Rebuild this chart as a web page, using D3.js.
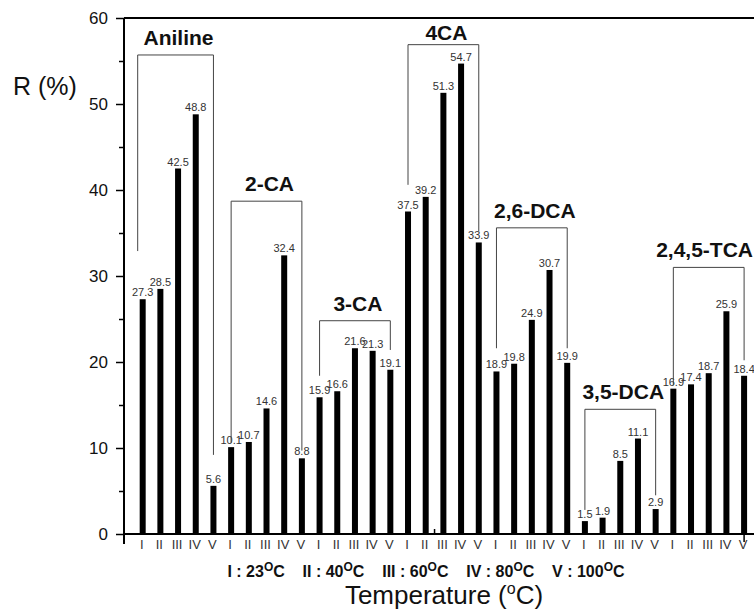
<!DOCTYPE html>
<html>
<head>
<meta charset="utf-8">
<script src="https://cdn.jsdelivr.net/npm/d3@7"></script>
<style>
  body { margin: 0; background: #fff; }
  svg { display: block; font-family: Arial, "Liberation Sans", sans-serif; }
  text { white-space: pre; }
</style>
</head>
<body>
<svg width="754" height="611"></svg>
<script>
// compounds and temperature levels
const groups = ['Aniline', '2-CA', '3-CA', '4CA', '2,6-DCA', '3,5-DCA', '2,4,5-TCA'];
const temps = ['I', 'II', 'III', 'IV', 'V'];

// R (%) per compound, for I..V
const aniline = [27.3, 28.5, 42.5, 48.8, 5.6];
const ca2 = [10.1, 10.7, 14.6, 32.4, 8.8];
const ca3 = [15.9, 16.6, 21.6, 21.3, 19.1];
const ca4 = [37.5, 39.2, 51.3, 54.7, 33.9];
const dca26 = [18.9, 19.8, 24.9, 30.7, 19.9];
const dca35 = [1.5, 1.9, 8.5, 11.1, 2.9];
const tca245 = [16.9, 17.4, 18.7, 25.9, 18.4];
const series = [aniline, ca2, ca3, ca4, dca26, dca35, tca245];

// bracket annotation levels, in R (%)
const bracketTop = [55.7, 38.7, 24.8, 56.9, 35.6, 14.5, 31.0];
const bracketLeftEnd = [32.9, 10.6, 18.4, 40.6, 21.6, 2.8, 17.3];
const bracketRightEnd = [9.2, 9.7, 21.4, 35.2, 21.6, 4.5, 20.2];

const yTicks = [0, 10, 20, 30, 40, 50, 60];
const tempKey = [['I : 23', 'C'], ['II : 40', 'C'], ['III : 60', 'C'], ['IV : 80', 'C'], ['V : 100', 'C']];

const svg = d3.select('svg');
const width = +svg.attr('width');
const height = +svg.attr('height');

const margin = {top: 18, right: 0, bottom: 77, left: 125};
const innerWidth = width - margin.left - margin.right;
const innerHeight = height - margin.top - margin.bottom;

const data = [];
series.forEach((vals, gi) => {
  vals.forEach((v, ti) => {
    data.push({group: groups[gi], gi, ti, temp: temps[ti], value: v, idx: gi * 5 + ti + 1});
  });
});

const xScale = d3.scaleLinear()
  .domain([0, 35.56])
  .range([0, innerWidth]);

const yScale = d3.scaleLinear()
  .domain([0, 60])
  .range([innerHeight, 0]);

const g = svg.append('g')
  .attr('transform', `translate(${margin.left}, ${margin.top})`);

// y axis, major + minor ticks pointing out
const yAxis = d3.axisLeft(yScale)
  .tickValues(yTicks)
  .tickSize(9)
  .tickPadding(8);
const yG = g.append('g').call(yAxis);
yG.select('.domain').remove();
yG.selectAll('.tick line').attr('stroke', '#000').attr('stroke-width', 1.5);
yG.selectAll('.tick text')
  .attr('font-size', 17)
  .attr('fill', '#111');

g.append('g')
  .call(d3.axisLeft(yScale).tickValues(d3.range(5, 60, 10)).tickSize(6).tickFormat(''))
  .call(s => s.select('.domain').remove())
  .selectAll('.tick line').attr('stroke', '#000').attr('stroke-width', 1.5);

// frame lines
g.append('line')
  .attr('x1', -1).attr('x2', -1)
  .attr('y1', 0).attr('y2', innerHeight + 10)
  .attr('stroke', '#000').attr('stroke-width', 2);
g.append('line')
  .attr('x1', -1).attr('x2', innerWidth)
  .attr('y1', 0).attr('y2', 0)
  .attr('stroke', '#000').attr('stroke-width', 2);
g.append('line')
  .attr('x1', -1).attr('x2', innerWidth)
  .attr('y1', innerHeight).attr('y2', innerHeight)
  .attr('stroke', '#000').attr('stroke-width', 2);

// the odd x ticks of the original
g.append('line')
  .attr('x1', xScale(35)).attr('x2', xScale(35))
  .attr('y1', innerHeight).attr('y2', innerHeight + 8)
  .attr('stroke', '#000').attr('stroke-width', 1.5);
g.append('line')
  .attr('x1', xScale(17.5)).attr('x2', xScale(17.5))
  .attr('y1', innerHeight).attr('y2', innerHeight - 5)
  .attr('stroke', '#000').attr('stroke-width', 1.5);

// bars
const barW = 6;
g.selectAll('rect.bar').data(data)
  .enter().append('rect')
    .attr('class', 'bar')
    .attr('x', d => xScale(d.idx) - barW / 2)
    .attr('y', d => yScale(d.value))
    .attr('width', barW)
    .attr('height', d => innerHeight - yScale(d.value))
    .attr('fill', '#000');

// value labels
g.selectAll('text.val').data(data)
  .enter().append('text')
    .attr('class', 'val')
    .attr('x', d => xScale(d.idx))
    .attr('y', d => yScale(d.value) - 3)
    .attr('text-anchor', 'middle')
    .attr('font-size', 11)
    .attr('fill', '#333')
    .text(d => d.value.toFixed(1));

// roman numeral labels under bars
g.selectAll('text.rom').data(data)
  .enter().append('text')
    .attr('class', 'rom')
    .attr('x', d => xScale(d.idx) - 1)
    .attr('y', innerHeight + 15)
    .attr('text-anchor', 'middle')
    .attr('font-size', 13)
    .attr('fill', '#333')
    .text(d => d.temp);

// group brackets + names
groups.forEach((name, gi) => {
  const x1 = xScale(gi * 5 + 1) - (gi === 0 ? 5 : 0);
  const x2 = xScale(gi * 5 + 5);
  const yt = yScale(bracketTop[gi]);
  g.append('path')
    .attr('d', `M${x1},${yScale(bracketLeftEnd[gi])}V${yt}H${x2}V${yScale(bracketRightEnd[gi])}`)
    .attr('fill', 'none')
    .attr('stroke', '#444')
    .attr('stroke-width', 1);
  const t = g.append('text')
    .attr('x', (x1 + x2) / 2 + 3)
    .attr('y', yt - (gi === 3 ? 5 : 10))
    .attr('text-anchor', 'middle')
    .attr('font-size', 21)
    .attr('font-weight', 'bold')
    .attr('fill', '#111')
    .text(name);
  // keep the last name inside the picture
  const bb = t.node().getBBox();
  const over = bb.x + bb.width - (innerWidth - 1);
  if (over > 0) t.attr('x', (x1 + x2) / 2 + 3 - over);
});

// y title
svg.append('text')
  .attr('x', 13)
  .attr('y', 95)
  .attr('font-size', 25)
  .attr('fill', '#111')
  .text('R (%)');

// temperature key
const key = svg.append('text')
  .attr('x', 426)
  .attr('y', 577)
  .attr('text-anchor', 'middle')
  .attr('font-size', 16)
  .attr('font-weight', 'bold')
  .attr('fill', '#111');
tempKey.forEach((p, i) => {
  key.append('tspan').text((i === 0 ? '' : '    ') + p[0]);
  key.append('tspan').attr('dy', -6).attr('font-size', 12).text('O');
  key.append('tspan').attr('dy', 6).text(p[1]);
});

// x title
const xt = svg.append('text')
  .attr('x', 444)
  .attr('y', 604)
  .attr('text-anchor', 'middle')
  .attr('font-size', 26)
  .attr('fill', '#111');
xt.append('tspan').text('Temperature (');
xt.append('tspan').attr('dy', -10).attr('font-size', 16).text('o');
xt.append('tspan').attr('dy', 10).text('C)');
</script>
</body>
</html>
